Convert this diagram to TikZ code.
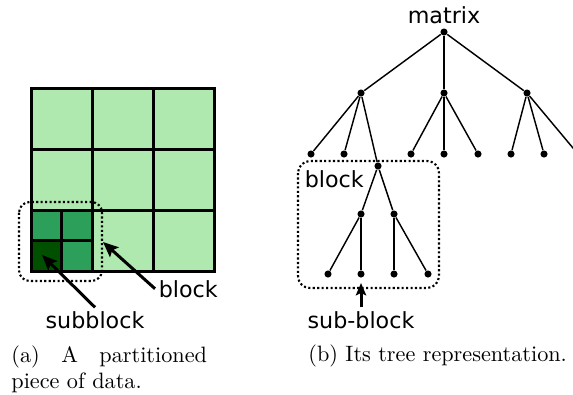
\documentclass[tikz,border=0pt]{standalone}
\usepackage{fontspec}
\newfontfamily\labelfont{DejaVu Sans}
\usetikzlibrary{arrows.meta, positioning}
\definecolor{clight}{HTML}{AFE9AF}
\definecolor{cmid}{HTML}{2CA05A}
\definecolor{cdark}{HTML}{005000}

\begin{document}
\begin{tikzpicture}[
  x=0.45pt, y=-0.45pt,
  lbl/.style={font=\labelfont\fontsize{10}{12}\selectfont, inner sep=1.5pt},
  captext/.style={font=\normalsize, inner sep=0pt},
  gridline/.style={line width=1.35pt},
  region/.style={line width=0.95pt, dash pattern=on 0.95pt off 1.05pt, rounded corners=4.8pt},
  pointer/.style={-{Stealth[length=6.8pt, width=5.8pt, inset=1.2pt]}, line width=1.35pt},
  vertex/.style={circle, fill=black, inner sep=0pt, minimum size=3.2pt},
  edge/.style={line width=0.65pt}
]
\useasboundingbox (0,0) rectangle (573,394);

% partitioned data
\fill[clight] (31,88) rectangle (214,271);
\fill[cmid] (31,210) rectangle (92,271);
\fill[cdark] (31,240) rectangle (61,271);
\foreach \gx in {92,153} \draw[gridline] (\gx,88) -- (\gx,271);
\foreach \gy in {149,210} \draw[gridline] (31,\gy) -- (214,\gy);
\draw[gridline] (61,210) -- (61,271);
\draw[gridline] (31,240) -- (92,240);
\draw[gridline] (31,88) rectangle (214,271);
\draw[region] (19,202) rectangle (102,281);

\node[lbl, anchor=base west] (blocklbl) at (155,297) {block};
\node[lbl, anchor=base] (sublbl) at (95,328) {subblock};
\coordinate (blocktip) at (103,242);
\coordinate (subtip) at (42,255);
\draw[pointer] (blocklbl.west) -- (blocktip);
\draw[pointer] (sublbl.north) -- (subtip);

% tree
\node[vertex] (root) at (444,32) {};
\node[lbl, anchor=base] (matrixlbl) at (444,23) {matrix};
\node[vertex] (a1) at (361,93) {};
\node[vertex] (a2) at (444,93) {};
\node[vertex] (a3) at (527,93) {};
\node[vertex] (b1) at (311,154) {};
\node[vertex] (b2) at (344,154) {};
\node[vertex] (b3) at (411,154) {};
\node[vertex] (b4) at (444,154) {};
\node[vertex] (b5) at (478,154) {};
\node[vertex] (b6) at (511,154) {};
\node[vertex] (b7) at (544,154) {};
\node[vertex] (b8) at (578,154) {};
\node[vertex] (c) at (378,166) {};
\node[vertex] (d1) at (361,214) {};
\node[vertex] (d2) at (394,214) {};
\node[vertex] (e1) at (328,274) {};
\node[vertex] (e2) at (361,274) {};
\node[vertex] (e3) at (394,274) {};
\node[vertex] (e4) at (428,274) {};
\foreach \u/\v in {root/a1, root/a2, root/a3, a1/b1, a1/b2, a1/c, a2/b3, a2/b4, a2/b5,
                   a3/b6, a3/b7, a3/b8, c/d1, c/d2, d1/e1, d1/e2, d2/e3, d2/e4}
  \draw[edge] (\u) -- (\v);

\draw[region, rounded corners=5.4pt] (298,161) rectangle (439,288);
\node[lbl, anchor=base west] (treeblock) at (301,187) {block};
\node[lbl, anchor=base] (subblk) at (361,328) {sub-block};
\coordinate (subblktip) at (361,283);
\draw[pointer, -{Stealth[length=5.5pt, width=4.6pt, inset=1pt]}] (subblk.north) -- (subblktip);

% captions
\node[captext, anchor=north west, text width=88pt, align=justify] (capa) at (11,345)
  {(a) A partitioned\linebreak piece of data.};
\node[captext, anchor=base west] (capb) at (308,361.7) {(b) Its tree representation.};
\end{tikzpicture}
\end{document}
